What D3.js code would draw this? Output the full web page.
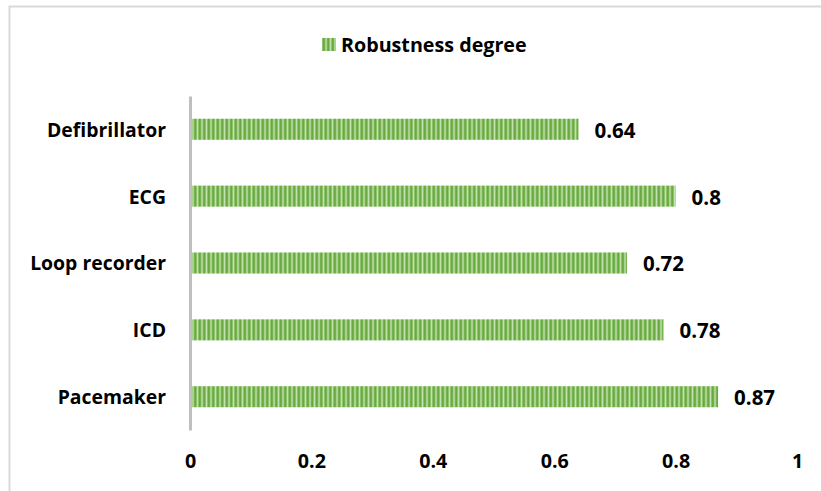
<!DOCTYPE html>
<html>
<head>
<meta charset="utf-8">
<script src="https://cdn.jsdelivr.net/npm/d3@7"></script>
<style>
  html, body { margin: 0; padding: 0; background: #fff; }
  svg text { font-family: "Open Sans", "Liberation Sans", sans-serif; font-weight: 700; fill: #000; }
</style>
</head>
<body>
<svg id="chart" width="821" height="491"></svg>
<script>
// Robustness degree per cardiac device
const devices = ["Defibrillator", "ECG", "Loop recorder", "ICD", "Pacemaker"];
const robustness = [0.64, 0.8, 0.72, 0.78, 0.87];
const xTicks = [0, 0.2, 0.4, 0.6, 0.8, 1];
const seriesName = "Robustness degree";

const svg = d3.select("#chart");
const W = 821, H = 491;
const margin = { left: 190, right: 24, top: 96, bottom: 61 };

// outer frame (top/left edges visible)
svg.append("rect")
  .attr("x", 9.5).attr("y", 6.5)
  .attr("width", W + 20).attr("height", H + 20)
  .attr("fill", "none").attr("stroke", "#d9d9d9").attr("stroke-width", 2);

// striped fill for the bars
const defs = svg.append("defs");
const pat = defs.append("pattern")
  .attr("id", "stripes").attr("patternUnits", "userSpaceOnUse")
  .attr("width", 4.5).attr("height", 10);
pat.append("rect").attr("x", 0).attr("y", 0).attr("width", 4.5).attr("height", 10).attr("fill", "#94c772");
pat.append("rect").attr("x", 0.8).attr("y", 0).attr("width", 2.0).attr("height", 10).attr("fill", "#68aa40");
pat.append("rect").attr("x", 3.5).attr("y", 0).attr("width", 1.0).attr("height", 10).attr("fill", "#c6e2b3");

const x = d3.scaleLinear().domain([0, 1]).range([margin.left, 797]);
const y = d3.scaleBand().domain(devices).range([margin.top, H - margin.bottom]).paddingInner(0.685).paddingOuter(0.34);

// bars
svg.append("g").selectAll("rect")
  .data(devices)
  .join("rect")
  .attr("x", x(0) + 1)
  .attr("y", d => y(d))
  .attr("width", (d, i) => x(robustness[i]) - x(0) - 1)
  .attr("height", y.bandwidth())
  .attr("fill", "url(#stripes)");

// value labels
svg.append("g").selectAll("text")
  .data(devices)
  .join("text")
  .attr("x", (d, i) => x(robustness[i]) + 16)
  .attr("y", d => y(d) + y.bandwidth() / 2 + 1)
  .attr("dy", "0.36em")
  .attr("font-size", 20.5)
  .text((d, i) => d3.format("")(robustness[i]));

// category axis
const yAxis = d3.axisLeft(y).tickSize(0).tickPadding(24);
const gy = svg.append("g").attr("transform", `translate(${x(0)},0)`).call(yAxis);
gy.select(".domain").attr("stroke", "#bfbfbf").attr("stroke-width", 3);
gy.selectAll("text").attr("font-size", 19.4).attr("font-family", null).attr("font-weight", null)
  .attr("dy", "0.38em");

// value axis (labels only)
const xAxis = d3.axisBottom(x).tickValues(xTicks).tickSize(0).tickPadding(0).tickFormat(d3.format(""));
const gx = svg.append("g").attr("transform", `translate(0,${H - margin.bottom + 24})`).call(xAxis);
gx.select(".domain").remove();
gx.selectAll("text").attr("font-size", 19.7).attr("font-family", null).attr("font-weight", null);

// legend
const lg = svg.append("g").attr("transform", "translate(322,38)");
lg.append("rect").attr("width", 14).attr("height", 13).attr("fill", "url(#stripes)");
lg.append("text").attr("x", 19).attr("y", 6.5).attr("dy", "0.36em").attr("font-size", 19.7).text(seriesName);
</script>
</body>
</html>
